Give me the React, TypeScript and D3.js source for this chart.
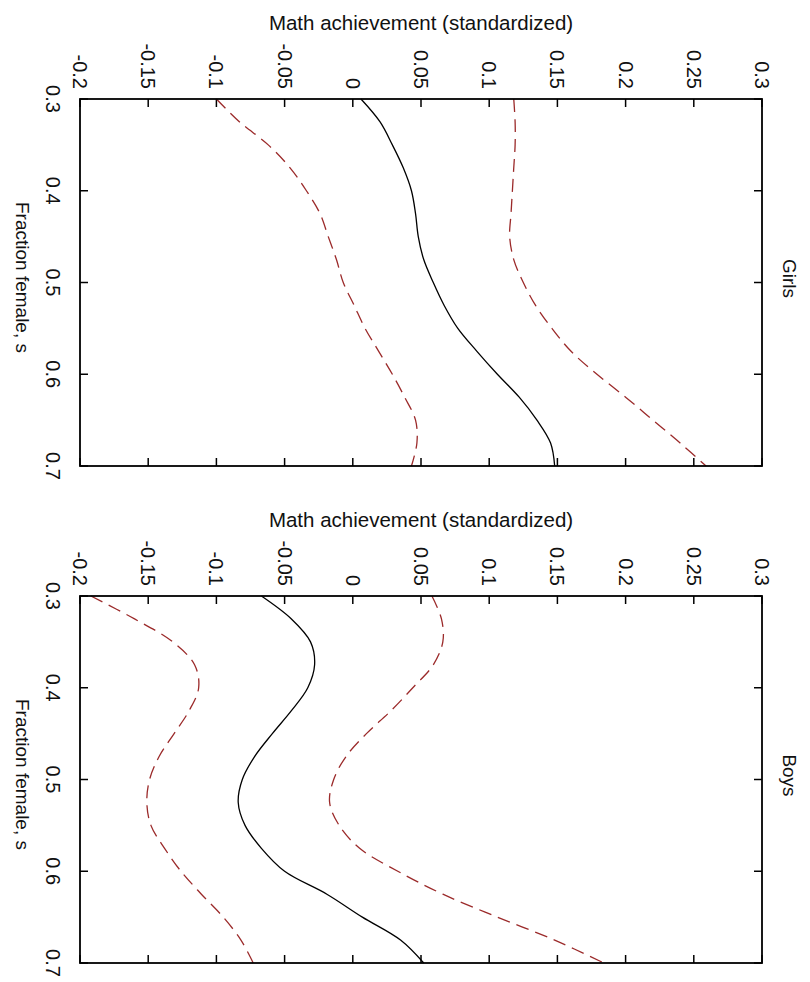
import React from "react";
import * as d3 from "d3";

const WIDTH = 810;
const HEIGHT = 982;
const BOX = { left: 80, right: 762 };
const PANELS_TOP = [99, 596];
const PANEL_H = 367;

const fractionFemale = [0.3, 0.325, 0.35, 0.375, 0.4, 0.425, 0.45, 0.475, 0.5, 0.525, 0.55, 0.575, 0.6, 0.625, 0.65, 0.675, 0.7];

const girlsMean = [0.006, 0.02, 0.029, 0.037, 0.043, 0.046, 0.048, 0.052, 0.059, 0.067, 0.077, 0.091, 0.106, 0.122, 0.135, 0.145, 0.148];
const girlsLower = [-0.1, -0.083, -0.062, -0.046, -0.034, -0.024, -0.018, -0.012, -0.007, 0.001, 0.009, 0.019, 0.029, 0.038, 0.046, 0.047, 0.043];
const girlsUpper = [0.118, 0.119, 0.119, 0.118, 0.117, 0.116, 0.115, 0.118, 0.125, 0.134, 0.146, 0.16, 0.179, 0.2, 0.22, 0.24, 0.259];

const boysMean = [-0.067, -0.045, -0.031, -0.028, -0.033, -0.045, -0.059, -0.072, -0.081, -0.084, -0.079, -0.067, -0.05, -0.019, 0.007, 0.035, 0.052];
const boysLower = [-0.192, -0.16, -0.132, -0.116, -0.113, -0.12, -0.131, -0.142, -0.149, -0.151, -0.148, -0.138, -0.126, -0.111, -0.095, -0.082, -0.073];
const boysUpper = [0.058, 0.065, 0.066, 0.059, 0.044, 0.028, 0.01, -0.005, -0.014, -0.017, -0.01, 0.005, 0.033, 0.066, 0.106, 0.148, 0.184];

const valueTicks = [-0.2, -0.15, -0.1, -0.05, 0, 0.05, 0.1, 0.15, 0.2, 0.25, 0.3];
const fractionTicks = [0.3, 0.4, 0.5, 0.6, 0.7];

const panels = [
  { name: "Girls", mean: girlsMean, lower: girlsLower, upper: girlsUpper },
  { name: "Boys", mean: boysMean, lower: boysLower, upper: boysUpper },
];

const FONT = "'Liberation Sans', Arial, sans-serif";
const TICK = 8;
const RED = "#9b2a2a";

const fmt = (v: number) => (v === 0 ? "0" : String(+v.toFixed(2)));

const Panel = ({ top, data }: { top: number; data: (typeof panels)[0] }) => {
  const bottom = top + PANEL_H;
  const xScale = d3.scaleLinear().domain([-0.2, 0.3]).range([BOX.left, BOX.right]);
  const yScale = d3.scaleLinear().domain([0.3, 0.7]).range([top, bottom]);
  const line = d3
    .line<number>()
    .x((d) => xScale(d))
    .y((_, i) => yScale(fractionFemale[i]))
    .curve(d3.curveCatmullRom);
  const midY = (top + bottom) / 2;
  const midX = (BOX.left + BOX.right) / 2;

  return (
    <g>
      <text x={midX} y={top - 69} textAnchor="middle" fontSize={20.5} fontFamily={FONT} fill="#111">
        Math achievement (standardized)
      </text>
      {valueTicks.map((v, i) => (
        <g key={i}>
          <line x1={xScale(v)} x2={xScale(v)} y1={top} y2={top + TICK} stroke="#000" strokeWidth={1.5} />
          <line x1={xScale(v)} x2={xScale(v)} y1={bottom} y2={bottom - TICK} stroke="#000" strokeWidth={1.5} />
          <text
            transform={`translate(${xScale(v)},${top - 10}) rotate(90)`}
            textAnchor="end"
            dominantBaseline="central"
            fontSize={20}
            fontFamily={FONT}
            fill="#111"
          >
            {fmt(v)}
          </text>
        </g>
      ))}
      {fractionTicks.map((s, i) => (
        <g key={i}>
          <line x1={BOX.left} x2={BOX.left + TICK} y1={yScale(s)} y2={yScale(s)} stroke="#000" strokeWidth={1.5} />
          <line x1={BOX.right} x2={BOX.right - TICK} y1={yScale(s)} y2={yScale(s)} stroke="#000" strokeWidth={1.5} />
          <text
            transform={`translate(53,${yScale(s)}) rotate(90)`}
            textAnchor="middle"
            dominantBaseline="central"
            fontSize={20}
            fontFamily={FONT}
            fill="#111"
          >
            {fmt(s)}
          </text>
        </g>
      ))}
      <text
        transform={`translate(22,${midY - 5}) rotate(90)`}
        textAnchor="middle"
        dominantBaseline="central"
        fontSize={19}
        fontFamily={FONT}
        fill="#111"
      >
        Fraction female, s
      </text>
      <text
        transform={`translate(789,${midY - 4}) rotate(90)`}
        textAnchor="middle"
        dominantBaseline="central"
        fontSize={19}
        fontFamily={FONT}
        fill="#111"
      >
        {data.name}
      </text>
      <path d={line(data.lower) ?? ""} fill="none" stroke={RED} strokeWidth={1.3} strokeDasharray="13,7" />
      <path d={line(data.upper) ?? ""} fill="none" stroke={RED} strokeWidth={1.3} strokeDasharray="13,7" />
      <path d={line(data.mean) ?? ""} fill="none" stroke="#000" strokeWidth={1.3} />
      <rect
        x={BOX.left}
        y={top}
        width={BOX.right - BOX.left}
        height={PANEL_H}
        fill="none"
        stroke="#000"
        strokeWidth={1.8}
      />
    </g>
  );
};

export default function App() {
  return (
    <svg
      width={WIDTH}
      height={HEIGHT}
      style={{ position: "absolute", left: 0, top: 0, background: "#fff" }}
    >
      <rect width={WIDTH} height={HEIGHT} fill="#fff" />
      {panels.map((p, i) => (
        <Panel key={p.name} top={PANELS_TOP[i]} data={p} />
      ))}
    </svg>
  );
}
